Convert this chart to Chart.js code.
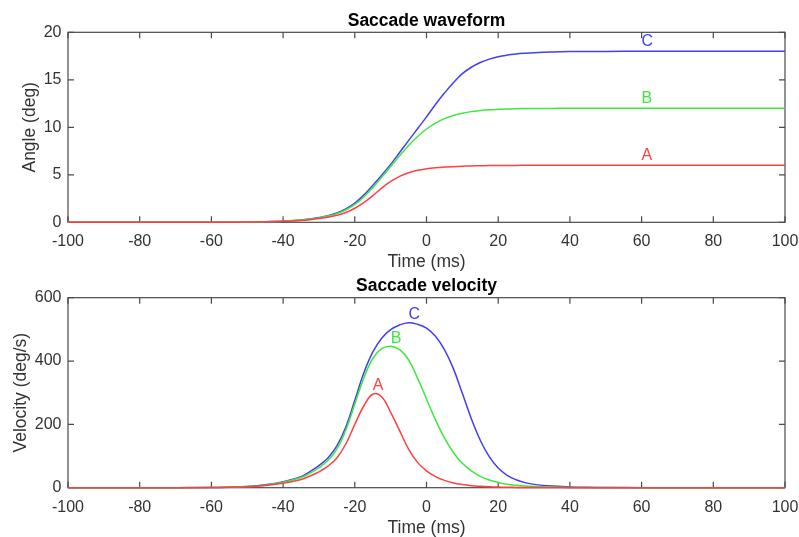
<!DOCTYPE html>
<html>
<head>
<meta charset="utf-8">
<script src="https://cdn.jsdelivr.net/npm/chart.js@4/dist/chart.umd.min.js"></script>
<style>
html,body{margin:0;padding:0;background:#fff;overflow:hidden;width:799px;height:537px}
canvas{position:absolute;left:0}
#c1{top:0}
#c2{top:268px}
</style>
</head>
<body>
<canvas id="c1" width="799" height="280"></canvas>
<canvas id="c2" width="799" height="269"></canvas>
<script>
// ---- data ----
const timeMs = [-100,-80,-60,-55,-50,-45,-40,-35,-32.5,-30,-27.5,-25,-22.5,-20,-17.5,-15,-12.5,-10,-7.5,-5,-2.5,0,2.5,5,7.5,10,12.5,15,17.5,20,22.5,25,27.5,30,35,40,45,50,60,80,100];

const angleA = [0,0,0,0.01,0.02,0.05,0.1,0.2,0.28,0.39,0.53,0.74,1.03,1.48,2.07,2.79,3.6,4.3,4.84,5.22,5.47,5.63,5.74,5.81,5.86,5.9,5.93,5.95,5.97,5.98,5.99,5.99,6,6,6,6,6,6,6,6,6];
const angleB = [0,0,0,0.01,0.02,0.06,0.12,0.23,0.33,0.46,0.66,0.91,1.3,1.88,2.67,3.65,4.74,5.88,7.0,8.08,9.03,9.82,10.45,10.91,11.25,11.48,11.65,11.76,11.84,11.89,11.93,11.96,11.97,11.98,11.99,12,12,12,12,12,12];
const angleC = [0,0,0,0.01,0.02,0.06,0.12,0.24,0.35,0.5,0.7,0.99,1.41,2.02,2.86,3.88,4.95,6.1,7.35,8.6,9.85,11.1,12.4,13.6,14.7,15.65,16.32,16.82,17.18,17.43,17.6,17.72,17.8,17.86,17.93,17.97,17.98,17.99,18,18,18];

const velA = [0,0,0.5,1.5,3,7,14,26,37,50,68,94,138,200,258,295,287,238,180,122,80,53,35,23,15,10,6.5,4.5,3,2,1.4,1,0.7,0.5,0.3,0.2,0.1,0.05,0,0,0];
const velB = [0,0,0.5,1.5,3.5,8,17,32,46,63,86,122,182,264,346,408,439,447,436,404,346,280,214,157,111,77,53,36,24.5,16.5,11,7.5,5,3.5,2,1,0.5,0.3,0,0,0];
const velC = [0,0,0.5,1.5,3.5,9,19,35,51,70,94,132,192,276,362,428,472,499,514,521,516,504,478,436,376,298,218,150,98,62,39,25,16,10.5,5,2.5,1.2,0.6,0.1,0,0];

const seriesNames = ['A','B','C'];
// text label anchors in data coordinates
const waveLabelX = [60, 60, 60];
const waveLabelY = [7, 13, 19];
const velLabelX = [-15, -10, -5];
const velLabelY = [322, 472, 547];

const xMin = -100, xMax = 100, xStep = 20;
const angleMin = 0, angleMax = 20, angleStep = 5;
const velMin = 0, velMax = 600, velStep = 200;

// ---- styles ----
const lineColors = ['#ff4040', '#40e640', '#4040f2'];
const AXIS_COLOR = '#4a4a4a';
const TEXT_COLOR = '#333333';
Chart.defaults.font.family = "'Liberation Sans', Arial, Helvetica, sans-serif";

const framePlugin = {
  id: 'frame',
  beforeDatasetsDraw(chart) {
    const {ctx, chartArea: a, scales: {x, y}} = chart;
    const L = 6;
    ctx.save();
    ctx.strokeStyle = AXIS_COLOR;
    ctx.lineWidth = 1.2;
    ctx.strokeRect(a.left, a.top, a.right - a.left, a.bottom - a.top);
    ctx.beginPath();
    x.ticks.forEach(t => {
      const px = x.getPixelForValue(t.value);
      ctx.moveTo(px, a.bottom); ctx.lineTo(px, a.bottom - L);
      ctx.moveTo(px, a.top); ctx.lineTo(px, a.top + L);
    });
    y.ticks.forEach(t => {
      const py = y.getPixelForValue(t.value);
      ctx.moveTo(a.left, py); ctx.lineTo(a.left + L, py);
      ctx.moveTo(a.right, py); ctx.lineTo(a.right - L, py);
    });
    ctx.stroke();
    ctx.restore();
  },
  afterDatasetsDraw(chart) {
    const lab = chart.options.plugins.frame;
    if (!lab) return;
    const {ctx, scales: {x, y}} = chart;
    ctx.save();
    ctx.font = "16px 'Liberation Sans', Arial, sans-serif";
    ctx.textAlign = 'left';
    ctx.textBaseline = 'middle';
    seriesNames.forEach((n, i) => {
      ctx.fillStyle = lineColors[i];
      ctx.fillText(n, x.getPixelForValue(lab.xs[i]), y.getPixelForValue(lab.ys[i]));
    });
    ctx.restore();
  }
};

function buildChart(canvas, cfg) {
  return new Chart(canvas, {
    type: 'line',
    data: {
      datasets: seriesNames.map((n, i) => ({
        label: n,
        data: timeMs.map((t, k) => ({x: t, y: cfg.values[i][k]})),
        borderColor: lineColors[i],
        borderWidth: 1.5,
        pointRadius: 0,
        fill: false,
        tension: 0.4,
        clip: false
      }))
    },
    options: {
      responsive: false,
      animation: false,
      devicePixelRatio: 1,
      events: [],
      layout: {padding: {left: 0, right: 14, top: 0, bottom: 0}},
      plugins: {
        legend: {display: false},
        tooltip: {enabled: false},
        title: {
          display: true, text: cfg.title, fullSize: false, color: '#000',
          font: {size: 17.5, weight: 'bold', lineHeight: 1.2},
          padding: cfg.titlePad
        },
        frame: {xs: cfg.labelX, ys: cfg.labelY}
      },
      scales: {
        x: {
          type: 'linear', min: xMin, max: xMax,
          grid: {display: false, drawTicks: false},
          border: {display: false},
          ticks: {stepSize: xStep, padding: 10, color: TEXT_COLOR, font: {size: 16}, maxRotation: 0, autoSkip: false},
          title: {display: true, text: 'Time (ms)', color: TEXT_COLOR, font: {size: 17.5, lineHeight: 1}, padding: {top: 0, bottom: cfg.xTitlePad}},
          afterFit: s => { s.height = cfg.xHeight; s.paddingLeft = 0; s.paddingRight = 0; }
        },
        y: {
          type: 'linear', min: cfg.yMin, max: cfg.yMax,
          grid: {display: false, drawTicks: false},
          border: {display: false},
          ticks: {stepSize: cfg.yStep, padding: 6.5, color: TEXT_COLOR, font: {size: 16}},
          title: {display: true, text: cfg.yTitle, color: TEXT_COLOR, font: {size: 17.5, lineHeight: 1}, padding: {top: cfg.yTitlePad, bottom: 0}},
          afterFit: s => { s.width = 68; s.paddingTop = 0; s.paddingBottom = 0; }
        }
      }
    },
    plugins: [framePlugin]
  });
}

buildChart(document.getElementById('c1'), {
  title: 'Saccade waveform',
  yTitle: 'Angle (deg)',
  values: [angleA, angleB, angleC],
  yMin: angleMin, yMax: angleMax, yStep: angleStep,
  titlePad: {top: 10.5, bottom: 0.8},
  xHeight: 57.7, xTitlePad: 8.75,
  yTitlePad: 21,
  labelX: waveLabelX, labelY: waveLabelY
});

buildChart(document.getElementById('c2'), {
  title: 'Saccade velocity',
  yTitle: 'Velocity (deg/s)',
  values: [velA, velB, velC],
  yMin: velMin, yMax: velMax, yStep: velStep,
  titlePad: {top: 7.5, bottom: 1.2},
  xHeight: 49.3, xTitlePad: 0.5,
  yTitlePad: 12,
  labelX: velLabelX, labelY: velLabelY
});
</script>
</body>
</html>
